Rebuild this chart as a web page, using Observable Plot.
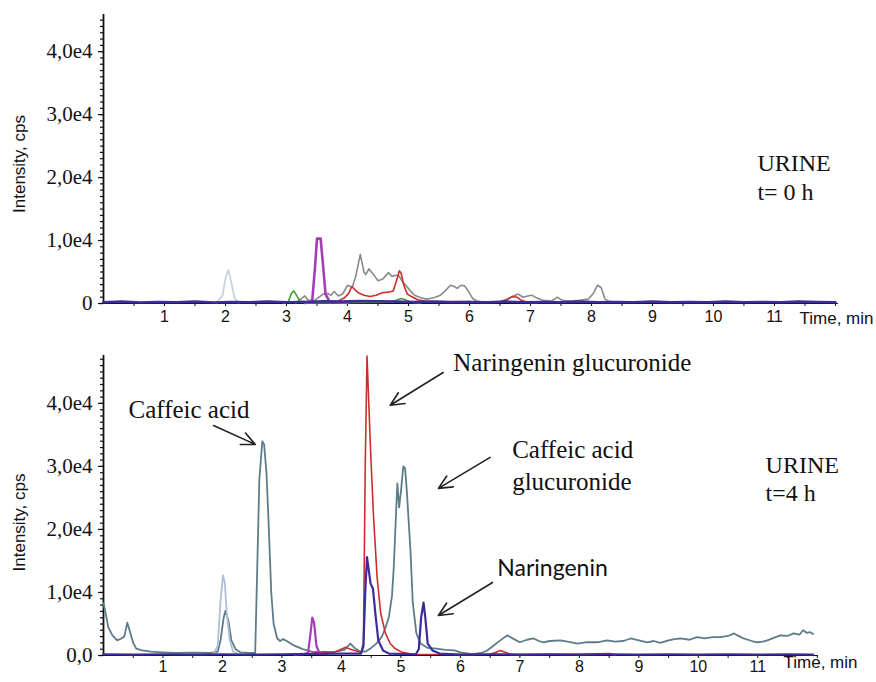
<!DOCTYPE html>
<html><head><meta charset="utf-8">
<script src="https://cdn.jsdelivr.net/npm/d3@7"></script>
<script src="https://cdn.jsdelivr.net/npm/@observablehq/plot@0.6"></script>
<style>
html,body{margin:0;padding:0;background:#fff;}
#chart{width:876px;height:682px;overflow:hidden;}
svg{display:block;}
</style></head><body><div id="chart"></div>
<script>
// ---------- tick values and labels ----------
const yTickValues = [0, 10000, 20000, 30000, 40000];
const yTickLabelsTop = ["0", "1,0e4", "2,0e4", "3,0e4", "4,0e4"];
const yTickLabelsBottom = ["0,0", "1,0e4", "2,0e4", "3,0e4", "4,0e4"];
const xTickValues = [1, 2, 3, 4, 5, 6, 7, 8, 9, 10, 11];
const xTickLabels = ["1", "2", "3", "4", "5", "6", "7", "8", "9", "10", "11"];

// ---------- top panel (URINE t = 0 h): [time min, intensity cps] ----------
const top_grey = [[3.15,100],[3.25,800],[3.3,1200],[3.35,600],[3.45,400],[3.6,1500],[3.68,1600],[3.73,1300],[3.78,1900],[3.85,1200],[3.92,1500],[4.0,2900],[4.08,2600],[4.14,4500],[4.21,7800],[4.27,5000],[4.3,4600],[4.35,5500],[4.42,4700],[4.5,3600],[4.58,3900],[4.67,4900],[4.73,4300],[4.78,4500],[4.84,4400],[4.9,3500],[4.98,2600],[5.05,1800],[5.1,1300],[5.2,900],[5.3,700],[5.42,900],[5.52,1300],[5.6,2000],[5.69,2900],[5.75,2700],[5.8,2400],[5.86,2900],[5.92,2800],[5.98,2000],[6.05,800],[6.12,400],[6.2,250],[6.5,300],[6.62,700],[6.72,1200],[6.8,1500],[6.88,1000],[6.95,1200],[7.03,1300],[7.1,900],[7.2,500],[7.35,400],[7.44,1000],[7.52,500],[7.65,400],[7.8,500],[7.95,700],[8.03,1600],[8.1,2900],[8.16,2500],[8.22,700],[8.3,300],[8.5,200]];
const top_red = [[3.7,100],[3.85,400],[3.95,900],[4.02,1600],[4.07,2700],[4.12,2200],[4.18,1700],[4.27,1300],[4.37,1100],[4.47,1300],[4.57,1700],[4.67,1800],[4.75,2000],[4.8,3500],[4.85,5200],[4.88,4800],[4.92,3000],[4.98,1500],[5.05,1100],[5.15,600],[5.3,300],[5.6,300],[6.0,300],[6.2,150],[6.5,200],[6.6,500],[6.7,1100],[6.78,1000],[6.85,500],[6.95,200],[7.1,100]];
const top_green = [[2.95,100],[3.03,300],[3.08,1600],[3.12,2000],[3.17,1200],[3.22,400],[3.3,300],[3.4,100],[4.7,200],[4.8,500],[4.88,800],[4.95,600],[5.05,150],[5.2,100]];
const top_lightblue = [[1.85,150],[1.95,1200],[2.0,4000],[2.05,5300],[2.1,3200],[2.15,800],[2.22,150]];
const top_magenta = [[3.3,100],[3.42,200],[3.47,6000],[3.5,10300],[3.56,10300],[3.6,6000],[3.64,1500],[3.7,400],[3.8,200],[4.0,100]];
const top_navy = [[0,200],[0.3,300],[0.6,150],[0.9,250],[1.2,200],[1.5,300],[1.8,150],[2.1,250],[2.4,200],[2.7,300],[3.0,200],[3.3,250],[3.6,350],[3.9,300],[4.2,400],[4.5,350],[4.8,300],[5.1,250],[5.4,300],[5.7,200],[6.0,250],[6.3,200],[6.6,300],[6.9,200],[7.2,250],[7.5,200],[7.8,300],[8.1,200],[8.4,250],[8.7,200],[9.0,300],[9.3,200],[9.6,250],[9.9,200],[10.2,300],[10.5,200],[10.8,250],[11.1,200],[11.4,300],[11.7,250],[12.0,200]];

// ---------- bottom panel (URINE t = 4 h) ----------
const bot_slate = [[0,8300],[0.03,7000],[0.08,4500],[0.15,3200],[0.23,2400],[0.3,2700],[0.35,3000],[0.4,5200],[0.45,3600],[0.5,2000],[0.55,1100],[0.65,800],[0.8,600],[1.0,500],[1.2,400],[1.5,450],[1.8,400],[1.92,600],[1.97,2500],[2.02,6000],[2.05,7100],[2.1,5500],[2.15,2400],[2.22,1000],[2.3,500],[2.45,400],[2.55,400],[2.58,12000],[2.62,28000],[2.67,34000],[2.7,33500],[2.74,29000],[2.78,20000],[2.82,10000],[2.86,5000],[2.92,2700],[2.97,2300],[3.02,2600],[3.08,2300],[3.2,1600],[3.35,1000],[3.5,600],[3.7,500],[3.9,600],[4.05,900],[4.15,1900],[4.22,1200],[4.3,700],[4.4,600],[4.5,1200],[4.6,2000],[4.68,3000],[4.74,4400],[4.8,6200],[4.85,9500],[4.88,14000],[4.92,23000],[4.94,27300],[4.97,23500],[5.0,26000],[5.04,30000],[5.07,29700],[5.1,26000],[5.16,16700],[5.2,8300],[5.26,3500],[5.33,1900],[5.45,1200],[5.6,1100],[5.75,900],[5.9,800],[6.0,500],[6.2,200],[6.35,400],[6.45,800],[6.55,1500],[6.67,2400],[6.79,3200],[6.9,2600],[7.0,2100],[7.12,2500],[7.23,2700],[7.32,2300],[7.4,2100],[7.5,2300],[7.68,2400],[7.8,2200],[7.97,1900],[8.1,2100],[8.3,2100],[8.47,2400],[8.6,2200],[8.74,2300],[8.86,2700],[9.0,2400],[9.14,2100],[9.25,2300],[9.36,2000],[9.5,2400],[9.6,2600],[9.7,2700],[9.85,2500],[9.98,2900],[10.1,2700],[10.25,2900],[10.37,2900],[10.5,3100],[10.6,3500],[10.7,3000],[10.76,2700],[10.9,2300],[10.99,2100],[11.08,2200],[11.16,2400],[11.27,2800],[11.38,3200],[11.5,3100],[11.6,3500],[11.7,3300],[11.76,4000],[11.82,3600],[11.88,3700],[11.93,3400]];
const bot_lightblue = [[1.85,300],[1.92,1500],[1.97,9000],[2.01,12700],[2.04,11500],[2.07,7000],[2.12,2500],[2.18,600],[2.25,300]];
const bot_red = [[3.2,100],[3.5,300],[3.7,600],[3.85,400],[3.95,800],[4.07,1300],[4.15,1000],[4.25,700],[4.33,500],[4.37,2000],[4.4,30000],[4.43,47500],[4.49,32500],[4.54,22000],[4.6,12400],[4.66,6700],[4.74,3500],[4.82,1900],[4.9,1100],[5.02,500],[5.2,200],[6.0,150],[6.5,200],[6.6,500],[6.67,800],[6.75,500],[6.85,150],[8.0,200],[8.5,300],[8.6,100]];
const bot_magenta = [[3.35,200],[3.44,400],[3.48,3500],[3.51,6000],[3.54,5200],[3.58,1500],[3.63,400],[3.75,200]];
const bot_blue = [[0,200],[0.5,150],[1.0,200],[1.5,150],[2.0,200],[2.5,150],[3.0,200],[3.5,250],[4.0,300],[4.33,300],[4.37,1500],[4.4,10000],[4.43,15600],[4.46,13500],[4.49,11400],[4.53,10600],[4.57,6700],[4.62,2400],[4.7,800],[4.8,300],[5.25,200],[5.3,1000],[5.34,6000],[5.38,8400],[5.41,6000],[5.45,1900],[5.53,800],[5.65,300],[6.0,150],[6.5,200],[7.0,150],[7.5,200],[8.0,150],[8.5,200],[9.0,150],[9.5,200],[10.0,150],[10.5,200],[11.0,150],[11.5,200],[11.93,150]];

// ---------- annotations (data units) ----------
const topNotesSample = [
  {t: 10.72, v: 22200, label: "URINE"},
  {t: 10.72, v: 17600, label: "t= 0 h"}
];
const botNotesSample = [
  {t: 11.13, v: 30160, label: "URINE"},
  {t: 11.13, v: 25710, label: "t=4 h"}
];
const botNotesCompound = [
  {t: 0.42, v: 38900, label: "Caffeic acid"},
  {t: 5.88, v: 46350, label: "Naringenin glucuronide"},
  {t: 6.87, v: 32540, label: "Caffeic acid"},
  {t: 6.87, v: 27460, label: "glucuronide"}
];
const botNotesSans = [
  {t: 6.62, v: 13810, label: "Naringenin"}
];
const botArrows = [
  {t1: 1.85, v1: 36500, t2: 2.55, v2: 33500},
  {t1: 5.71, v1: 44900, t2: 4.82, v2: 39700},
  {t1: 6.50, v1: 31430, t2: 5.63, v2: 26510},
  {t1: 6.54, v1: 11590, t2: 5.63, v2: 6350}
];

// ---------- drawing ----------
const toRows = (pairs) => pairs.map(([t, v]) => ({t, v}));
const SERIF = "'Liberation Serif', 'Times New Roman', serif";
const SANS = "'Liberation Sans', Arial, sans-serif";

function panel(cfg) {
  const lineMarks = cfg.series.map(s =>
    Plot.line(toRows(s.data), {x: "t", y: "v", stroke: s.color, strokeWidth: s.width, curve: "linear", strokeLinejoin: "round"})
  );
  return Plot.plot({
    width: 876,
    height: cfg.height,
    marginLeft: 103,
    marginRight: cfg.marginRight,
    marginTop: cfg.marginTop,
    marginBottom: cfg.marginBottom,
    style: {fontFamily: SANS, background: "#fff", color: "#111"},
    x: {domain: [0, cfg.xMax]},
    y: {domain: [0, cfg.yMax]},
    marks: [
      Plot.axisY({ticks: d3.range(0, cfg.yMax, 1000), tickSize: 3, tickFormat: () => "", label: null, strokeWidth: 1.2}),
      Plot.axisY({ticks: yTickValues, tickSize: 5, tickPadding: 6, label: null,
        tickFormat: d => cfg.yLabels[yTickValues.indexOf(d)],
        fontSize: 21, fontFamily: SERIF, strokeWidth: 1.2}),
      Plot.axisX({ticks: d3.range(0.5, cfg.xMax, 0.5), tickSize: 3, tickFormat: () => "", label: null}),
      Plot.axisX({ticks: xTickValues, tickSize: 0, tickPadding: cfg.xPad, label: null,
        tickFormat: d => xTickLabels[xTickValues.indexOf(d)], fontSize: 16, fontFamily: SANS}),
      Plot.ruleX([0], {stroke: "#111", strokeWidth: 1.8}),
      Plot.ruleY([0], {stroke: "#111", strokeWidth: 1.2}),
      ...lineMarks,
      Plot.text(["Intensity, cps"], {frameAnchor: "left", textAnchor: "middle", rotate: -90, dx: -84, dy: cfg.yLabelDy, fontSize: 17, fontFamily: SANS, fill: "#111"}),
      Plot.text(["Time, min"], {frameAnchor: "bottom-right", textAnchor: "end", dx: cfg.timeDx, dy: cfg.timeDy, fontSize: 17, fontFamily: SANS, fill: "#111"}),
      Plot.text(cfg.notesSample, {x: "t", y: "v", text: "label", textAnchor: "start", fontSize: 24, fontFamily: SERIF, fill: "#111"}),
      Plot.text(cfg.notesCompound || [], {x: "t", y: "v", text: "label", textAnchor: "start", fontSize: 25, fontFamily: SERIF, fill: "#111"}),
      Plot.text(cfg.notesSans || [], {x: "t", y: "v", text: "label", textAnchor: "start", fontSize: 23, fontFamily: "Lato, 'Open Sans', sans-serif", fill: "#111"}),
      Plot.arrow(cfg.arrows || [], {x1: "t1", y1: "v1", x2: "t2", y2: "v2", stroke: "#222", strokeWidth: 1.6, headLength: 14, headAngle: 50})
    ]
  });
}

const topPlot = panel({
  height: 338, marginTop: 14, marginBottom: 35, marginRight: 38,
  xMax: 12.05, yMax: 45900, xPad: 7,
  yLabels: yTickLabelsTop, yLabelDy: 5,
  timeDx: 35, timeDy: 20,
  notesSample: topNotesSample,
  series: [
    {data: top_grey, color: "#8a8a8a", width: 1.6},
    {data: top_red, color: "#c9302c", width: 1.6},
    {data: top_green, color: "#4a9b3b", width: 1.6},
    {data: top_lightblue, color: "#c8d2e2", width: 1.8},
    {data: top_magenta, color: "#a53cb8", width: 2.6},
    {data: top_navy, color: "#3b2c9c", width: 2.6}
  ]
});

const botPlot = panel({
  height: 344, marginTop: 17, marginBottom: 27, marginRight: 58,
  xMax: 12.02, yMax: 47600, xPad: 5,
  yLabels: yTickLabelsBottom, yLabelDy: 17,
  timeDx: 39, timeDy: 12,
  notesSample: botNotesSample, notesCompound: botNotesCompound, notesSans: botNotesSans, arrows: botArrows,
  series: [
    {data: bot_slate, color: "#5d7c8a", width: 1.8},
    {data: bot_lightblue, color: "#aebfd8", width: 1.8},
    {data: bot_red, color: "#c9302c", width: 1.6},
    {data: bot_magenta, color: "#a53cb8", width: 2.2},
    {data: bot_blue, color: "#3b2c9c", width: 2.2}
  ]
});

const root = document.getElementById("chart");
root.appendChild(topPlot);
root.appendChild(botPlot);
</script></body></html>
